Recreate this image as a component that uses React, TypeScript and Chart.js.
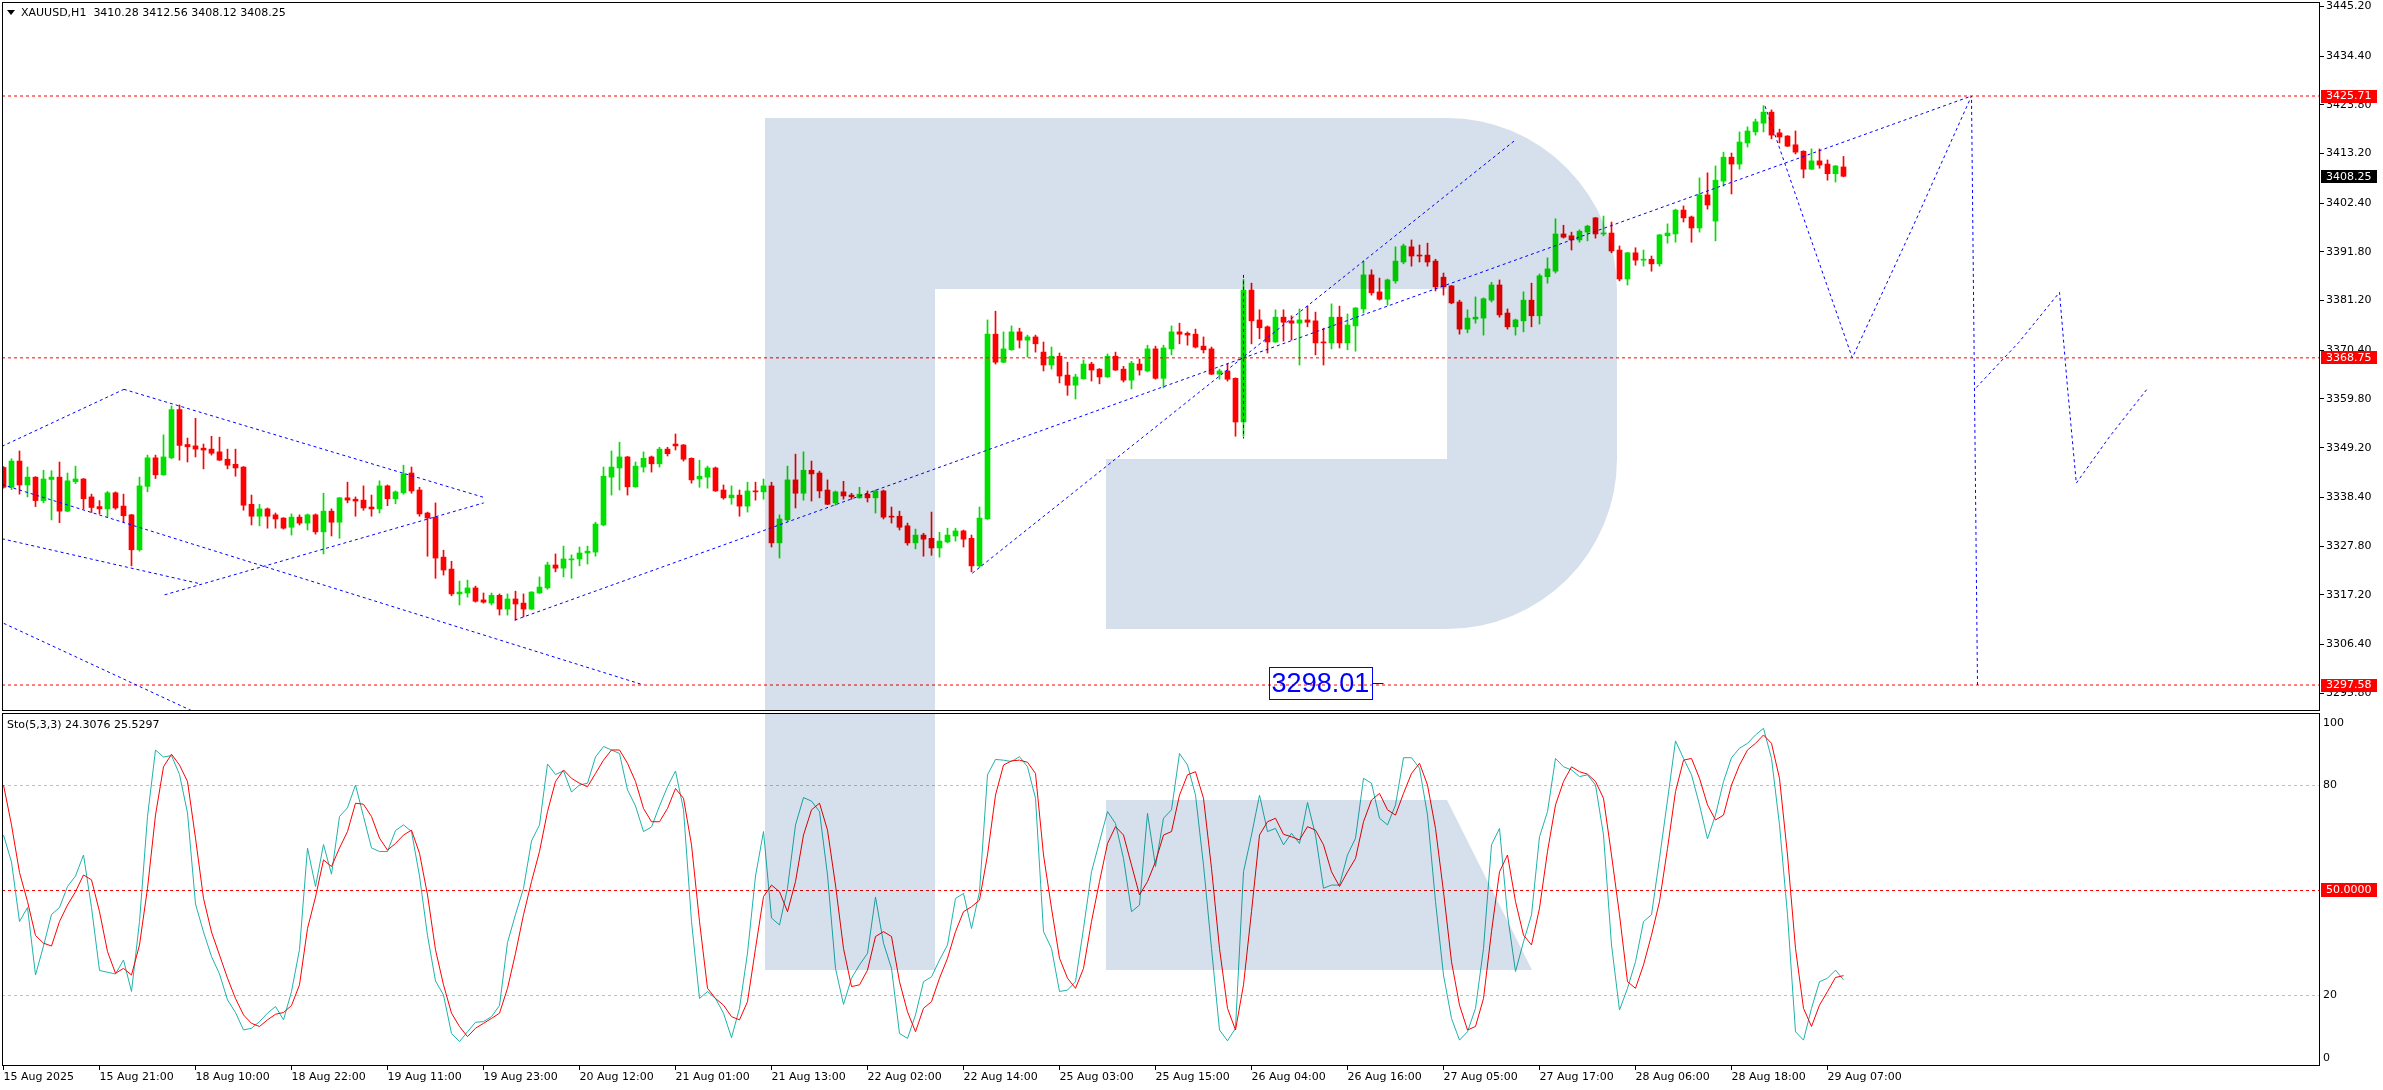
import { useEffect, useRef } from "react";
import { Chart, registerables } from "chart.js";

Chart.register(...registerables);

// ---------------- DATA ----------------
const SYMBOL_TITLE = "XAUUSD,H1  3410.28 3412.56 3408.12 3408.25";
const STOCH_TITLE = "Sto(5,3,3) 24.3076 25.5297";

const TIME_TICK_BARS = [0, 12, 24, 36, 48, 60, 72, 84, 96, 108, 120, 132, 144, 156, 168, 180, 192, 204, 216, 228];
const TIME_TICK_LABELS = [
  "15 Aug 2025", "15 Aug 21:00", "18 Aug 10:00", "18 Aug 22:00", "19 Aug 11:00",
  "19 Aug 23:00", "20 Aug 12:00", "21 Aug 01:00", "21 Aug 13:00", "22 Aug 02:00",
  "22 Aug 14:00", "25 Aug 03:00", "25 Aug 15:00", "26 Aug 04:00", "26 Aug 16:00",
  "27 Aug 05:00", "27 Aug 17:00", "28 Aug 06:00", "28 Aug 18:00", "29 Aug 07:00",
];

const PRICE_TICKS = [3445.2, 3434.4, 3423.8, 3413.2, 3402.4, 3391.8, 3381.2, 3370.4, 3359.8, 3349.2, 3338.4, 3327.8, 3317.2, 3306.4, 3295.8];
const LEVELS = [3425.71, 3368.75, 3297.58];
const LAST_PRICE = 3408.25;
const TEXT_LABEL = { x: 158.2, y: 3298.01, text: "3298.01" };

const OPEN = [
  3344.9, 3340.6, 3346.3, 3341.1, 3342.8, 3337.7, 3342.3, 3342.8, 3335.4, 3341.8,
  3342.4, 3338.5, 3336.4, 3335.9, 3339.4, 3336.5, 3334.6, 3327.0, 3340.8, 3347.0,
  3343.3, 3347.0, 3357.5, 3349.9, 3349.6, 3349.1, 3348.9, 3348.3, 3346.7, 3345.6,
  3345.0, 3336.9, 3334.3, 3335.9, 3334.6, 3333.9, 3331.9, 3334.1, 3332.8, 3334.6,
  3330.9, 3335.4, 3333.0, 3338.3, 3338.0, 3337.8, 3336.3, 3335.9, 3340.9, 3338.1,
  3339.4, 3343.7, 3340.0, 3335.0, 3334.1, 3325.4, 3322.8, 3317.4, 3317.6, 3318.7,
  3316.1, 3315.4, 3317.1, 3314.1, 3316.3, 3315.4, 3314.1, 3317.6, 3318.7, 3323.7,
  3323.0, 3324.8, 3325.0, 3326.3, 3326.5, 3332.4, 3342.8, 3344.8, 3347.2, 3340.7,
  3345.0, 3347.2, 3345.7, 3348.9, 3350.0, 3349.8, 3346.9, 3342.4, 3342.8, 3344.8,
  3340.0, 3338.3, 3338.9, 3336.5, 3339.8, 3339.6, 3340.9, 3328.5, 3333.5, 3342.2,
  3339.3, 3344.3, 3343.7, 3340.0, 3337.2, 3339.6, 3338.9, 3338.3, 3339.1, 3338.3,
  3339.8, 3334.3, 3334.3, 3332.2, 3328.5, 3330.2, 3329.5, 3327.4, 3328.7, 3330.0,
  3331.1, 3329.5, 3323.5, 3333.7, 3373.9, 3367.8, 3370.5, 3374.4, 3372.6, 3373.3,
  3370.0, 3367.2, 3369.1, 3365.0, 3362.8, 3364.2, 3367.4, 3366.3, 3364.6, 3369.1,
  3366.3, 3363.9, 3367.4, 3365.9, 3370.7, 3364.3, 3370.7, 3374.4, 3374.1, 3373.9,
  3371.3, 3370.7, 3365.2, 3365.9, 3364.3, 3354.8, 3383.5, 3377.0, 3375.5, 3372.2,
  3377.6, 3376.8, 3376.3, 3377.0, 3376.8, 3372.2, 3372.0, 3377.6, 3372.0, 3375.7,
  3379.4, 3386.8, 3383.1, 3381.5, 3385.5, 3389.6, 3392.9, 3391.1, 3391.1, 3389.8,
  3386.3, 3384.4, 3380.9, 3375.0, 3377.2, 3377.4, 3381.3, 3384.6, 3378.5, 3375.5,
  3376.8, 3381.3, 3377.9, 3386.4, 3387.6, 3395.7, 3395.3, 3394.4, 3396.1, 3399.2,
  3395.7, 3395.9, 3392.2, 3385.9, 3391.6, 3390.0, 3390.2, 3389.2, 3395.3, 3395.7,
  3400.9, 3399.4, 3397.0, 3404.2, 3398.5, 3407.2, 3412.4, 3410.9, 3415.5, 3417.9,
  3419.8, 3422.2, 3417.7, 3417.0, 3415.1, 3413.7, 3409.8, 3411.6, 3410.9, 3408.8,
  3410.28,
];
const HIGH = [
  3345.1, 3346.8, 3348.5, 3345.0, 3342.9, 3344.3, 3344.2, 3346.1, 3343.7, 3345.2,
  3342.5, 3339.1, 3337.7, 3339.7, 3339.6, 3339.1, 3334.7, 3342.8, 3347.6, 3347.6,
  3352.0, 3358.3, 3358.5, 3351.3, 3355.6, 3350.0, 3351.7, 3351.5, 3348.9, 3348.9,
  3345.1, 3338.9, 3336.9, 3336.1, 3335.0, 3334.0, 3334.8, 3334.6, 3334.8, 3334.8,
  3339.3, 3335.9, 3338.4, 3341.7, 3338.5, 3340.9, 3338.9, 3342.0, 3341.1, 3339.8,
  3345.4, 3345.0, 3340.6, 3335.2, 3337.2, 3326.9, 3324.5, 3320.2, 3320.4, 3319.1,
  3317.6, 3317.6, 3317.4, 3317.4, 3318.0, 3317.4, 3317.9, 3321.1, 3324.3, 3326.1,
  3327.8, 3325.9, 3327.6, 3327.8, 3333.0, 3345.0, 3348.5, 3350.4, 3347.3, 3346.1,
  3348.3, 3347.4, 3349.3, 3349.3, 3352.2, 3349.9, 3347.0, 3346.5, 3345.2, 3345.0,
  3341.1, 3340.9, 3340.0, 3341.7, 3341.7, 3342.4, 3341.7, 3334.6, 3345.2, 3347.8,
  3348.3, 3346.3, 3344.1, 3342.2, 3339.8, 3341.9, 3339.3, 3340.6, 3339.8, 3340.0,
  3340.0, 3336.3, 3335.4, 3332.8, 3331.5, 3330.6, 3335.2, 3330.8, 3331.7, 3331.7,
  3331.3, 3330.2, 3336.3, 3377.0, 3378.9, 3374.4, 3375.7, 3375.2, 3373.7, 3373.7,
  3372.2, 3371.1, 3369.8, 3367.8, 3365.2, 3368.3, 3367.8, 3366.4, 3369.6, 3370.0,
  3366.9, 3368.0, 3368.5, 3371.5, 3371.3, 3371.5, 3375.7, 3376.3, 3374.4, 3375.0,
  3373.3, 3371.1, 3366.3, 3367.4, 3364.4, 3385.8, 3385.0, 3379.2, 3375.7, 3379.2,
  3379.2, 3377.9, 3379.4, 3380.0, 3378.7, 3375.2, 3380.5, 3380.0, 3378.3, 3379.7,
  3389.8, 3387.9, 3386.1, 3385.9, 3392.9, 3393.5, 3394.4, 3393.3, 3393.7, 3390.2,
  3387.2, 3384.5, 3381.3, 3379.2, 3382.0, 3381.8, 3385.2, 3385.7, 3379.4, 3377.2,
  3383.1, 3385.0, 3387.0, 3390.5, 3399.0, 3397.6, 3396.1, 3396.6, 3397.6, 3399.3,
  3399.6, 3398.3, 3393.1, 3391.7, 3392.7, 3392.2, 3390.9, 3395.6, 3397.9, 3401.1,
  3401.8, 3399.6, 3407.9, 3409.0, 3410.5, 3413.5, 3413.3, 3417.9, 3419.0, 3420.7,
  3423.6, 3422.7, 3418.5, 3417.1, 3418.1, 3413.8, 3414.2, 3414.2, 3411.8, 3410.6,
  3412.56,
];
const LOW = [
  3340.4, 3340.1, 3339.1, 3338.5, 3336.4, 3337.2, 3333.5, 3332.9, 3335.3, 3341.4,
  3335.9, 3335.1, 3334.8, 3334.2, 3335.8, 3333.1, 3323.5, 3326.7, 3339.6, 3342.5,
  3343.2, 3346.8, 3346.5, 3346.1, 3347.2, 3344.6, 3347.6, 3346.4, 3344.6, 3343.0,
  3335.6, 3332.4, 3332.2, 3331.7, 3331.7, 3331.5, 3330.2, 3332.4, 3331.3, 3330.4,
  3326.1, 3330.0, 3329.5, 3337.2, 3334.3, 3335.6, 3334.3, 3335.0, 3336.6, 3337.0,
  3339.1, 3339.3, 3334.3, 3325.6, 3320.8, 3321.5, 3317.0, 3315.0, 3316.7, 3315.6,
  3315.4, 3315.0, 3312.8, 3312.8, 3311.7, 3312.4, 3314.0, 3317.5, 3318.4, 3322.2,
  3321.1, 3320.8, 3323.5, 3323.9, 3325.6, 3332.2, 3338.9, 3340.0, 3338.9, 3340.6,
  3343.9, 3343.9, 3345.0, 3347.4, 3348.7, 3346.3, 3341.5, 3340.6, 3340.4, 3339.7,
  3338.0, 3336.9, 3334.3, 3335.2, 3337.8, 3338.0, 3327.6, 3325.2, 3333.2, 3336.1,
  3337.8, 3337.6, 3338.3, 3336.8, 3336.7, 3338.0, 3338.0, 3338.2, 3337.4, 3335.0,
  3333.7, 3332.8, 3331.3, 3328.0, 3327.2, 3325.6, 3325.8, 3325.4, 3328.5, 3328.9,
  3327.6, 3322.2, 3323.2, 3333.6, 3367.4, 3367.7, 3370.4, 3370.9, 3368.9, 3370.0,
  3365.9, 3366.3, 3363.3, 3360.6, 3359.8, 3364.1, 3363.7, 3363.1, 3364.5, 3366.0,
  3363.5, 3362.0, 3365.0, 3365.7, 3364.1, 3362.2, 3369.4, 3371.8, 3371.5, 3370.9,
  3369.8, 3365.1, 3364.1, 3363.7, 3351.7, 3351.7, 3371.8, 3372.9, 3369.8, 3372.1,
  3372.4, 3372.6, 3367.2, 3375.5, 3369.4, 3367.2, 3370.7, 3370.9, 3370.5, 3370.2,
  3378.5, 3382.4, 3381.3, 3380.2, 3385.0, 3389.2, 3388.7, 3389.6, 3388.7, 3383.3,
  3382.4, 3380.5, 3373.9, 3374.2, 3376.3, 3373.7, 3380.9, 3377.6, 3375.0, 3373.7,
  3374.4, 3375.5, 3376.1, 3385.0, 3387.2, 3394.8, 3392.2, 3393.9, 3394.2, 3394.8,
  3395.3, 3391.6, 3385.5, 3384.6, 3388.9, 3388.7, 3387.6, 3388.7, 3393.7, 3393.9,
  3398.3, 3393.9, 3396.1, 3401.1, 3394.2, 3406.1, 3404.4, 3409.8, 3414.6, 3417.2,
  3417.9, 3416.4, 3415.5, 3414.7, 3413.1, 3407.9, 3409.7, 3410.0, 3407.4, 3407.0,
  3408.12,
];
const CLOSE = [
  3340.6, 3346.3, 3341.1, 3342.8, 3337.7, 3342.4, 3342.8, 3335.4, 3342.0, 3342.4,
  3338.1, 3336.2, 3335.9, 3339.4, 3336.1, 3334.4, 3327.0, 3340.9, 3347.0, 3343.3,
  3347.2, 3357.5, 3349.7, 3349.4, 3348.9, 3348.7, 3348.0, 3346.5, 3345.4, 3344.8,
  3336.7, 3334.3, 3335.9, 3334.3, 3333.7, 3331.7, 3334.1, 3332.8, 3334.6, 3330.9,
  3335.4, 3333.0, 3338.3, 3337.8, 3337.6, 3336.1, 3335.9, 3340.9, 3338.1, 3339.6,
  3343.5, 3339.8, 3334.8, 3333.9, 3325.2, 3322.6, 3317.4, 3317.8, 3318.7, 3315.8,
  3315.6, 3317.1, 3314.1, 3316.3, 3315.2, 3314.1, 3317.8, 3318.9, 3323.7, 3323.0,
  3325.0, 3325.0, 3326.3, 3326.7, 3332.6, 3343.0, 3345.0, 3347.2, 3340.7, 3345.2,
  3346.9, 3345.7, 3348.9, 3347.9, 3349.6, 3346.7, 3342.2, 3343.0, 3344.8, 3339.8,
  3338.3, 3338.9, 3336.5, 3339.8, 3339.6, 3340.9, 3328.5, 3333.7, 3342.2, 3339.3,
  3344.3, 3343.5, 3339.8, 3336.9, 3339.6, 3338.7, 3338.5, 3339.1, 3338.3, 3339.8,
  3334.1, 3334.1, 3331.9, 3328.5, 3330.2, 3329.3, 3327.4, 3328.9, 3330.2, 3331.1,
  3329.3, 3323.5, 3333.9, 3373.9, 3367.8, 3370.7, 3374.4, 3372.6, 3373.3, 3371.8,
  3367.2, 3369.1, 3364.8, 3362.8, 3364.6, 3367.4, 3366.1, 3364.6, 3369.1, 3366.1,
  3363.9, 3367.6, 3366.1, 3370.7, 3364.3, 3370.9, 3374.4, 3373.9, 3373.7, 3371.1,
  3370.5, 3365.2, 3365.9, 3364.1, 3354.8, 3383.5, 3376.8, 3375.3, 3372.2, 3377.6,
  3376.5, 3376.3, 3377.0, 3376.5, 3372.0, 3372.0, 3377.6, 3372.0, 3375.9, 3379.6,
  3386.8, 3382.9, 3381.5, 3385.7, 3389.8, 3393.1, 3390.9, 3390.9, 3389.6, 3384.2,
  3384.2, 3380.7, 3375.0, 3377.4, 3377.6, 3381.6, 3384.6, 3378.1, 3375.5, 3377.0,
  3381.3, 3377.9, 3386.6, 3388.1, 3395.7, 3395.0, 3394.4, 3396.3, 3397.4, 3395.7,
  3395.9, 3392.0, 3385.9, 3391.6, 3390.0, 3390.2, 3389.2, 3395.5, 3395.9, 3400.9,
  3399.2, 3397.0, 3404.2, 3402.0, 3407.4, 3412.4, 3410.9, 3415.7, 3418.1, 3420.1,
  3422.2, 3417.2, 3416.8, 3414.8, 3413.5, 3409.8, 3411.6, 3410.7, 3408.8, 3410.5,
  3408.25,
];

const STOCH_K = [
  65.7, 58, 41, 45, 25.7, 34, 43, 45, 51, 54,
  60, 45, 27, 26.5, 26, 30, 21, 41, 71, 90,
  88, 88.4, 83, 72, 46, 38, 31, 26, 18.6, 15,
  10, 10.5, 12.4, 14.8, 16.7, 12.9, 21, 33, 62, 51,
  63, 54.5, 71, 73.5, 80, 71, 62, 61, 61, 67,
  68.6, 66.7, 54, 37, 24, 20, 9, 6.7, 9.5, 12.2,
  12.4, 13.8, 17, 35, 43, 50.5, 64, 68.6, 86, 83,
  84, 78, 80, 80.5, 88, 91, 90, 89, 78.6, 74,
  66.7, 68, 74, 79.5, 84, 73, 41, 19, 21, 19,
  14.8, 7.8, 16.2, 32, 54, 66.7, 42, 40, 50.5, 68.6,
  76.4, 75.4, 72.4, 54.3, 27.6, 17.3, 24.8, 28.6, 31.9, 48,
  34.8, 27.6, 9, 7.6, 14.3, 23.8, 25.2, 30, 34.3, 47.6,
  49, 39, 49.5, 82.9, 87.3, 87.1, 86.7, 88.1, 85.2, 76.2,
  38.1, 33.3, 21, 21.4, 23.8, 39, 55.2, 63.8, 72.4, 69,
  59, 43.8, 45.7, 71.9, 56.7, 70.5, 72.9, 89, 85.7, 77.1,
  57.1, 33.3, 10, 6.9, 10.5, 55.2, 65.7, 77.1, 66.7, 67.6,
  62.9, 66.2, 63.3, 75, 65.7, 50.5, 51.4, 51.4, 60, 64.8,
  81.9, 80.5, 70.5, 68.6, 74.3, 87.8, 87.8, 84.8, 71.4, 46.7,
  25.7, 13.3, 7.1, 9.5, 16.2, 33.3, 62.9, 67.6, 42.9, 26.7,
  35.2, 42.9, 65.2, 72.4, 87.6, 85.2, 84.3, 82.4, 82.9, 80,
  65.7, 34.3, 15.7, 21.9, 29.5, 41, 42.9, 59, 75.7, 92.6,
  87.6, 82.9, 74.3, 64.6, 71.4, 81, 87.8, 90.5, 91.9, 94.3,
  96.2, 87.6, 68.6, 42.9, 9.5, 7.1, 16.2, 23.8, 24.8, 27.1,
  24.31,
];
const STOCH_D = [
  80, 68.6, 55, 46.7, 37, 34.8, 34, 41, 45.7, 49.5,
  54.3, 52.9, 43.8, 32.4, 26.2, 27.6, 25.7, 34.3, 50.5, 71.4,
  85.2, 88.8, 85.7, 81, 64.8, 47.6, 38, 31.4, 24.8, 19,
  14.3, 11.9, 11, 12.9, 14.5, 15, 17, 22.9, 39, 48,
  58.6, 56.7, 62, 66.7, 74.8, 74.5, 71, 64.8, 61.4, 63.3,
  65.7, 67.1, 60.5, 48.6, 32.9, 22.9, 14.8, 11, 8.1, 10.5,
  11.9, 13.3, 14.8, 21.9, 31.9, 42.9, 52.4, 61, 72.4, 81,
  84.3, 81.9, 80.5, 79.5, 83.3, 87.1, 90, 90, 86.2, 81,
  73.3, 69.5, 69.5, 73.3, 79, 76.2, 62.9, 41, 21.9, 19,
  17.1, 13.8, 12.9, 18.1, 33.3, 48.1, 51.4, 49.5, 43.8, 52.4,
  65.7, 72.9, 74.8, 67.1, 51.4, 33.3, 22.4, 22.9, 27.1, 36.7,
  38.1, 36.7, 23.8, 15.2, 9.5, 16.2, 18.1, 24.8, 30.5, 38.1,
  43.8, 45.2, 47.1, 60, 77.1, 85.7, 86.9, 87.1, 86.5, 83.3,
  60, 44.8, 30.5, 24.8, 21.9, 27.6, 41, 52.4, 63.3, 68.1,
  65.7, 57.1, 48.6, 52.4, 58.1, 65.7, 66.7, 77.1, 82.9, 83.8,
  76.2, 56.2, 33.3, 16.2, 10, 22.9, 43.8, 65.7, 69.5, 70.5,
  65.9, 65.2, 64.3, 68.1, 67.1, 62.9, 55.2, 51, 55.2, 59,
  69.5, 75.7, 77.6, 72.9, 71.4, 77.6, 83.3, 86.2, 80, 67.6,
  49.5, 29.5, 17.1, 10, 11, 19, 38.1, 55.2, 60, 46.7,
  37.1, 34.3, 44.8, 61, 74.3, 81, 85.2, 83.8, 83.1, 81,
  76.2, 60, 42.9, 23.8, 21.9, 28.6, 37.1, 46.7, 61.9, 78.1,
  87.1, 87.6, 81.9, 74.3, 70, 71.4, 80, 85.7, 90, 91.9,
  94.3, 91.9, 81.9, 60, 33.3, 16.2, 11, 17.1, 21, 25,
  25.53,
];
const STOCH_LEVELS = [20, 80];
const STOCH_MID = 50;
const STOCH_AXIS_LABELS = ["100", "80", "20", "0"];

// analyst drawings (bar index, price)
const TRENDLINES: number[][][] = [
  [[-0.19, 3349.5], [15.05, 3361.9]],
  [[15.05, 3361.9], [60.03, 3338.4]],
  [[-0.19, 3341.2], [80.0, 3297.6]],
  [[-0.19, 3329.4], [24.34, 3319.7]],
  [[20.14, 3317.2], [60.03, 3337.2]],
  [[0.03, 3311.0], [25.0, 3290.8]],
  [[63.9, 3311.7], [246.0, 3425.71]],
  [[121.1, 3321.9], [189.1, 3416.3]],
  [[155.0, 3386.8], [155.0, 3351.2]],
  [[220.2, 3423.5], [225.6, 3396.2], [231.1, 3368.75], [238.6, 3397.0], [246.0, 3425.71], [246.75, 3297.58]],
  [[246.6, 3362.3], [251.9, 3372.1], [257.0, 3383.0], [258.0, 3362.3], [259.1, 3341.5], [263.3, 3351.7], [268.1, 3362.3]],
];

// ---------------- LAYOUT ----------------
const W = 2383;
const PRICE_H = 712;
const STOCH_TOP = 712;
const STOCH_H = 378;
const X_MIN = -0.1875;
const X_MAX = 289.5625;
const PRICE_MIN = 3291.93;
const PRICE_MAX = 3446.16;
const STOCH_MIN = -0.29;
const STOCH_MAX = 100.57;
const FONT = '"DejaVu Sans", Verdana, sans-serif';
const GREEN = "#00e000";
const RED = "#ff0000";
const BLUE = "#0000ff";

function drawLogo(chart: any, offsetY: number) {
  const { ctx, chartArea: ca } = chart;
  ctx.save();
  ctx.beginPath();
  ctx.rect(ca.left, ca.top, ca.right - ca.left, ca.bottom - ca.top);
  ctx.clip();
  ctx.translate(0, -offsetY);
  ctx.globalCompositeOperation = "multiply";
  ctx.fillStyle = "rgb(214,224,236)";
  ctx.beginPath();
  ctx.moveTo(765, 118);
  ctx.lineTo(1447, 118);
  ctx.ellipse(1447, 290, 170, 172, 0, -Math.PI / 2, 0, false);
  ctx.lineTo(1617, 459);
  ctx.ellipse(1447, 459, 170, 170, 0, 0, Math.PI / 2, false);
  ctx.lineTo(1106, 629);
  ctx.lineTo(1106, 459);
  ctx.lineTo(1447, 459);
  ctx.lineTo(1447, 289);
  ctx.lineTo(935, 289);
  ctx.lineTo(935, 970);
  ctx.lineTo(765, 970);
  ctx.closePath();
  ctx.moveTo(1106, 800);
  ctx.lineTo(1447, 800);
  ctx.lineTo(1532, 970);
  ctx.lineTo(1106, 970);
  ctx.closePath();
  ctx.fill();
  ctx.restore();
}

function drawFrame(chart: any) {
  const { ctx, chartArea: ca } = chart;
  ctx.save();
  ctx.strokeStyle = "#000";
  ctx.lineWidth = 1;
  ctx.strokeRect(ca.left + 0.5, ca.top + 0.5, ca.right - ca.left - 1, ca.bottom - ca.top - 1);
  ctx.restore();
}

function drawTag(ctx: any, y: number, text: string, bg: string, x0: number, h: number) {
  ctx.save();
  ctx.fillStyle = bg;
  ctx.fillRect(x0, Math.round(y - h / 2), 56, h);
  ctx.fillStyle = "#fff";
  ctx.font = `11px ${FONT}`;
  ctx.textAlign = "left";
  ctx.textBaseline = "middle";
  ctx.fillText(text, x0 + 5, y + 0.5);
  ctx.restore();
}

const pricePlugin = {
  id: "mt4price",
  afterDatasetsDraw(chart: any) {
    drawLogo(chart, 0);
  },
  afterDraw(chart: any) {
    const { ctx, chartArea: ca } = chart;
    const x = chart.scales.x;
    const y = chart.scales.y;
    drawFrame(chart);
    // text object
    ctx.save();
    const lx = x.getPixelForValue(TEXT_LABEL.x);
    const ly = y.getPixelForValue(TEXT_LABEL.y);
    ctx.font = `27px "Liberation Sans", Arial, sans-serif`;
    ctx.textBaseline = "middle";
    ctx.textAlign = "left";
    const tw = ctx.measureText(TEXT_LABEL.text).width;
    ctx.fillStyle = BLUE;
    ctx.fillText(TEXT_LABEL.text, lx + 2.5, ly + 1);
    ctx.strokeStyle = BLUE;
    ctx.lineWidth = 1;
    ctx.strokeRect(Math.round(lx) + 0.5, Math.round(ly - 16) + 0.5, Math.round(tw + 5), 32);
    ctx.beginPath();
    ctx.moveTo(Math.round(lx + tw + 5) + 0.5, Math.round(ly) + 0.5);
    ctx.lineTo(Math.round(lx + tw + 16) + 0.5, Math.round(ly) + 0.5);
    ctx.stroke();
    ctx.restore();
    // axis tags
    for (const lv of LEVELS) drawTag(ctx, y.getPixelForValue(lv), lv.toFixed(2), RED, ca.right + 1, 13);
    drawTag(ctx, y.getPixelForValue(LAST_PRICE), LAST_PRICE.toFixed(2), "#000", ca.right + 1, 13);
    // title
    ctx.save();
    ctx.fillStyle = "#000";
    ctx.beginPath();
    ctx.moveTo(7, 10);
    ctx.lineTo(15, 10);
    ctx.lineTo(11, 15);
    ctx.closePath();
    ctx.fill();
    ctx.font = `11px ${FONT}`;
    ctx.textBaseline = "middle";
    ctx.textAlign = "left";
    ctx.fillText(SYMBOL_TITLE, 21, 13);
    ctx.restore();
  },
};

const stochPlugin = {
  id: "mt4stoch",
  beforeDatasetsDraw(chart: any) {
    const { ctx, chartArea: ca } = chart;
    const y = chart.scales.y;
    ctx.save();
    ctx.lineWidth = 1;
    ctx.setLineDash([3, 3]);
    for (const lv of STOCH_LEVELS) {
      const py = Math.round(y.getPixelForValue(lv)) + 0.5;
      ctx.strokeStyle = "#c0c0c0";
      ctx.beginPath();
      ctx.moveTo(ca.left, py);
      ctx.lineTo(ca.right, py);
      ctx.stroke();
    }
    const my = Math.round(y.getPixelForValue(STOCH_MID)) + 0.5;
    ctx.strokeStyle = RED;
    ctx.beginPath();
    ctx.moveTo(ca.left, my);
    ctx.lineTo(ca.right, my);
    ctx.stroke();
    ctx.restore();
  },
  afterDatasetsDraw(chart: any) {
    drawLogo(chart, STOCH_TOP);
  },
  afterDraw(chart: any) {
    const { ctx, chartArea: ca } = chart;
    const y = chart.scales.y;
    drawFrame(chart);
    ctx.save();
    ctx.font = `11px ${FONT}`;
    ctx.fillStyle = "#000";
    ctx.textAlign = "left";
    ctx.textBaseline = "middle";
    ctx.fillText(STOCH_AXIS_LABELS[0], ca.right + 3, ca.top + 10);
    ctx.fillText(STOCH_AXIS_LABELS[1], ca.right + 3, y.getPixelForValue(80));
    ctx.fillText(STOCH_AXIS_LABELS[2], ca.right + 3, y.getPixelForValue(20));
    ctx.fillText(STOCH_AXIS_LABELS[3], ca.right + 3, ca.bottom - 8);
    ctx.fillText(STOCH_TITLE, 7, 13);
    ctx.restore();
    drawTag(ctx, y.getPixelForValue(STOCH_MID), STOCH_MID.toFixed(4), RED, ca.right + 1, 14);
  },
};

function priceConfig(): any {
  const colors = OPEN.map((o, i) => (CLOSE[i] >= o ? GREEN : RED));
  const datasets: any[] = [
    {
      type: "bar",
      label: "wick",
      data: OPEN.map((_, i) => ({ x: i, y: [LOW[i], HIGH[i]] })),
      backgroundColor: colors,
      borderWidth: 0,
      barThickness: 1,
      grouped: false,
      order: 3,
    },
    {
      type: "bar",
      label: "body",
      data: OPEN.map((o, i) => ({ x: i, y: [o, CLOSE[i]] })),
      backgroundColor: colors,
      borderWidth: 0,
      barThickness: 5,
      minBarLength: 1,
      grouped: false,
      order: 2,
    },
  ];
  for (const lv of LEVELS) {
    datasets.push({
      type: "line",
      data: [{ x: X_MIN, y: lv }, { x: X_MAX, y: lv }],
      borderColor: RED,
      borderWidth: 1,
      borderDash: [3, 3],
      pointRadius: 0,
      fill: false,
      order: 1,
    });
  }
  for (const line of TRENDLINES) {
    datasets.push({
      type: "line",
      data: line.map(([x, y]) => ({ x, y })),
      borderColor: BLUE,
      borderWidth: 1,
      borderDash: [3, 3],
      pointRadius: 0,
      fill: false,
      tension: 0,
      order: 0,
    });
  }
  return {
    type: "bar",
    data: { datasets },
    plugins: [pricePlugin],
    options: {
      responsive: false,
      animation: false,
      devicePixelRatio: 1,
      events: [],
      layout: { autoPadding: false, padding: { left: 2, top: 2, right: 0, bottom: 1 } },
      plugins: { legend: { display: false }, tooltip: { enabled: false } },
      scales: {
        x: {
          type: "linear",
          min: X_MIN,
          max: X_MAX,
          offset: false,
          display: false,
          grid: { offset: false },
        },
        y: {
          type: "linear",
          position: "right",
          min: PRICE_MIN,
          max: PRICE_MAX,
          afterBuildTicks: (s: any) => {
            s.ticks = PRICE_TICKS.map((v) => ({ value: v }));
          },
          afterFit: (s: any) => {
            s.width = 63;
            s.paddingTop = 0;
            s.paddingBottom = 0;
          },
          ticks: {
            autoSkip: false,
            padding: 2,
            color: "#000",
            font: { family: FONT, size: 11 },
            callback: (v: any) => Number(v).toFixed(2),
          },
          grid: { drawOnChartArea: false, drawTicks: true, tickLength: 4, color: "#000" },
          border: { display: false },
        },
      },
    },
  };
}

function stochConfig(): any {
  return {
    type: "line",
    data: {
      datasets: [
        {
          label: "main",
          data: STOCH_K.map((v, i) => ({ x: i, y: v })),
          borderColor: "rgb(32,178,170)",
          borderWidth: 1,
          pointRadius: 0,
          tension: 0,
          fill: false,
          order: 1,
        },
        {
          label: "signal",
          data: STOCH_D.map((v, i) => ({ x: i, y: v })),
          borderColor: RED,
          borderWidth: 1,
          pointRadius: 0,
          tension: 0,
          fill: false,
          order: 0,
        },
      ],
    },
    plugins: [stochPlugin],
    options: {
      responsive: false,
      animation: false,
      devicePixelRatio: 1,
      events: [],
      layout: { autoPadding: false, padding: { left: 2, top: 1, right: 0, bottom: 0 } },
      plugins: { legend: { display: false }, tooltip: { enabled: false } },
      scales: {
        x: {
          type: "linear",
          min: X_MIN,
          max: X_MAX,
          offset: false,
          afterBuildTicks: (s: any) => {
            s.ticks = TIME_TICK_BARS.map((v) => ({ value: v }));
          },
          afterFit: (s: any) => {
            s.height = 24;
            s.paddingLeft = 0;
            s.paddingRight = 0;
          },
          ticks: {
            autoSkip: false,
            maxRotation: 0,
            minRotation: 0,
            align: "start",
            padding: 1,
            color: "#000",
            font: { family: FONT, size: 11 },
            callback: (_v: any, idx: number) => TIME_TICK_LABELS[idx],
          },
          grid: { drawOnChartArea: false, drawTicks: true, tickLength: 4, color: "#000" },
          border: { display: false },
        },
        y: {
          type: "linear",
          position: "right",
          min: STOCH_MIN,
          max: STOCH_MAX,
          afterFit: (s: any) => {
            s.width = 63;
            s.paddingTop = 0;
            s.paddingBottom = 0;
          },
          ticks: { display: false },
          grid: { display: false },
          border: { display: false },
        },
      },
    },
  };
}

export default function App() {
  const priceRef = useRef<HTMLCanvasElement>(null);
  const stochRef = useRef<HTMLCanvasElement>(null);
  useEffect(() => {
    const c1 = new Chart(priceRef.current as any, priceConfig());
    const c2 = new Chart(stochRef.current as any, stochConfig());
    return () => {
      c1.destroy();
      c2.destroy();
    };
  }, []);
  return (
    <div style={{ position: "absolute", left: 0, top: 0, width: W, height: 1090, background: "#fff", overflow: "hidden" }}>
      <canvas
        ref={priceRef}
        width={W}
        height={PRICE_H}
        style={{ position: "absolute", left: 0, top: 0, width: W, height: PRICE_H, display: "block" }}
      />
      <canvas
        ref={stochRef}
        width={W}
        height={STOCH_H}
        style={{ position: "absolute", left: 0, top: STOCH_TOP, width: W, height: STOCH_H, display: "block" }}
      />
    </div>
  );
}
